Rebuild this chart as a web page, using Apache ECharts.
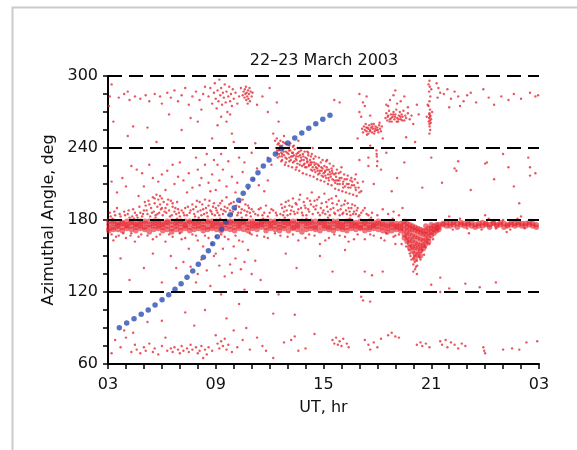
<!DOCTYPE html>
<html>
<head>
<meta charset="utf-8">
<title>Azimuthal angle, 22–23 March 2003</title>
<script src="https://cdn.jsdelivr.net/npm/echarts@6/dist/echarts.min.js"></script>
<style>
  html, body { margin: 0; padding: 0; background: #fff; }
  #chart { width: 577px; height: 450px; }
</style>
</head>
<body>
<div id="chart"></div>
<script>
// blue track (UT hours, azimuth deg)
const trackHours = [3.63, 4.04, 4.45, 4.85, 5.24, 5.62, 6.01, 6.38, 6.73, 7.07, 7.40, 7.72, 8.03, 8.31, 8.59, 8.83, 9.09,
  9.33, 9.57, 9.81, 10.03, 10.28, 10.53, 10.80, 11.06, 11.35, 11.65, 11.97, 12.32, 12.65, 13.01, 13.40, 13.79, 14.18,
  14.57, 14.96, 15.36]
const trackDeg = [90.2, 94.2, 97.8, 101.4, 105.0, 109.2, 113.6, 117.8, 122.3, 126.9, 132.3, 137.5, 143.1, 148.9, 154.4,
  160.3, 166.1, 172.3, 178.3, 184.4, 190.3, 196.4, 202.3, 208.1, 213.9, 219.4, 225.0, 230.0, 235.0, 239.4, 244.2,
  248.3, 252.5, 256.4, 260.3, 263.9, 267.3]

const refLines = [120, 180, 240, 300]

// dense band just under 180 deg: [hour, angle, angle, ...]
const bandColumns = [
  [3.05,176,173,179,171], [3.30,177,174,179,172], [3.55,175,178,172,176], [3.80,174,178,171,177],
  [4.05,176,173,179,175], [4.30,178,172,175,179], [4.55,174,177,171,176], [4.80,175,179,173,177],
  [5.05,177,172,179,174], [5.30,176,170,179,174], [5.55,175,179,172,177], [5.80,177,173,179,175],
  [6.05,174,178,171,176], [6.30,178,175,179,172], [6.55,176,173,179,170], [6.80,175,179,172,177],
  [7.05,177,174,179,171], [7.30,176,179,173,175], [7.55,174,178,171,179], [7.80,177,175,179,172],
  [8.05,175,179,173,178], [8.30,176,171,179,174], [8.55,178,174,179,172], [8.80,175,179,173,177],
  [9.05,177,172,179,175], [9.30,174,178,171,176], [9.55,176,179,173,178], [9.80,175,172,178,179],
  [10.05,177,174,179,171], [10.30,175,179,173,177], [10.55,176,172,178,179], [10.80,174,179,171,176],
  [11.05,177,175,179,173], [11.30,175,178,172,176], [11.55,176,179,174,178], [11.80,174,177,171,179],
  [12.05,177,173,179,175], [12.30,175,179,172,178], [12.55,176,174,179,171], [12.80,178,175,173,179],
  [13.05,175,179,171,177], [13.30,177,173,179,174], [13.55,176,179,172,175], [13.80,174,178,170,179],
  [14.05,177,175,179,172], [14.30,175,179,173,178], [14.55,176,172,179,174], [14.80,178,175,171,179],
  [15.05,175,177,173,179], [15.30,176,172,179,174], [15.55,177,174,179,171], [15.80,175,179,173,177],
  [16.05,176,172,178,174], [16.30,174,179,171,177], [16.55,177,175,179,173], [16.80,175,178,172,176],
  [17.05,176,173,179,174], [17.30,174,177,171,178], [17.55,176,174,179,172], [17.80,175,178,173,176],
  [18.05,177,172,175,179], [18.30,174,176,171,178], [18.55,175,173,177,170], [18.80,176,174,171,178],
  [19.05,174,177,172,175], [19.30,175,171,177,173],
  // dip around 20 UT
  [19.50,176,172,168,179,165], [19.65,174,170,166,177,162], [19.80,173,169,164,160,176,157],
  [19.95,172,167,163,158,154,175], [20.10,171,166,161,157,152,148,174], [20.25,170,165,160,156,151,173],
  [20.40,169,164,159,155,172,150], [20.55,168,163,159,171,156], [20.70,168,164,160,171,175],
  [20.85,169,165,162,173], [21.00,170,167,173,176], [21.15,172,169,175], [21.30,173,171,176], [21.42,174,176,172],
  // thin band after the gap
  [21.65,176,177], [21.85,175,178], [22.05,177,175], [22.25,176,178], [22.45,174,177], [22.65,176,178],
  [22.85,175,177], [23.05,177,176], [23.25,175,178], [23.45,176,174], [23.65,177,175], [23.85,175,178],
  [24.05,176,177], [24.25,174,176], [24.45,177,178], [24.65,175,176], [24.85,176,178], [25.05,174,177],
  [25.25,176,175], [25.45,178,176], [25.65,175,177], [25.85,176,178], [26.05,177,175], [26.25,175,177],
  [26.45,176,178], [26.65,177,175], [26.85,176,174]
]

// sparse dots, flat hour,angle pairs
const bandHalo = [
  3.1,186, 3.2,168, 3.4,184, 3.5,190, 3.6,167, 3.7,183, 3.9,187, 4.0,165, 4.1,185, 4.2,182, 4.3,169, 4.4,189,
  4.6,184, 4.7,166, 4.8,186, 4.9,183,
  5.0,188, 5.1,192, 5.2,185, 5.25,196, 5.35,183, 5.4,190, 5.5,199, 5.55,187, 5.6,194, 5.65,184, 5.7,201, 5.75,191,
  5.8,197, 5.85,186, 5.9,193, 5.95,189, 6.0,198, 6.05,184, 6.1,195, 6.2,190, 6.25,186, 6.3,193, 6.4,188, 6.5,196,
  6.55,184, 6.6,191, 6.7,187, 6.8,185, 6.9,189, 7.0,183,
  5.2,167, 5.5,164, 5.9,168, 6.2,162, 6.6,166, 7.0,169,
  7.2,186, 7.3,190, 7.4,184, 7.6,188, 7.7,193, 7.8,185, 7.9,191, 8.0,187, 8.1,195, 8.2,184, 8.3,189, 8.4,197,
  8.5,186, 8.6,192, 8.7,188, 8.8,185, 8.9,194, 9.0,190,
  7.3,165, 7.7,168, 8.0,163, 8.4,167, 8.8,160, 9.0,166,
  9.1,186, 9.15,192, 9.2,184, 9.3,189, 9.35,196, 9.4,185, 9.5,191, 9.55,187, 9.6,199, 9.7,184, 9.75,193, 9.8,188,
  9.9,185, 10.0,195, 10.1,189, 10.2,184, 10.3,191, 10.4,186, 10.5,197, 10.6,188, 10.7,184, 10.8,192, 10.9,186, 11.0,189,
  9.3,168, 9.7,164, 10.1,167, 10.5,162, 10.9,169,
  11.2,185, 11.4,189, 11.6,184, 11.8,192, 12.0,186, 12.2,188, 12.4,184, 11.3,167, 11.9,165, 12.3,169,
  12.6,185, 12.7,190, 12.8,187, 12.9,195, 13.0,184, 13.1,192, 13.2,188, 13.3,198, 13.4,185, 13.5,193, 13.6,189,
  13.7,201, 13.8,186, 13.9,195, 14.0,190, 14.05,184, 14.1,198, 14.2,187, 14.3,193, 14.35,203, 14.4,185, 14.5,196,
  14.55,189, 14.6,192, 14.7,186, 14.75,199, 14.8,184, 14.9,194, 15.0,188, 15.05,202, 15.1,185, 15.2,191, 15.3,197,
  15.35,184, 15.4,189, 15.5,194, 15.6,186, 15.7,200, 15.8,188, 15.9,184, 16.0,192, 16.1,186, 16.2,196, 16.3,185,
  16.4,190, 16.5,184, 16.6,193, 16.7,187, 16.8,185, 16.9,190, 17.0,184, 17.2,188, 17.4,185,
  13.0,166, 13.6,163, 14.2,168, 14.8,160, 15.3,165, 15.9,167, 16.4,162, 16.9,168, 17.3,164,
  17.7,186, 18.0,184, 18.3,189, 18.6,185, 18.9,187, 19.2,184, 19.4,190,
  17.8,167, 18.2,165, 18.5,169, 18.9,166, 19.2,168,
  19.6,158, 19.8,152, 19.9,147, 20.0,143, 20.05,150, 20.15,141, 20.2,146, 20.3,153, 20.4,147, 20.5,155, 20.6,151,
  20.1,139, 19.7,162, 20.7,157, 20.9,160, 21.1,164,
  21.8,180, 22.2,172, 22.6,181, 23.0,173, 23.4,180, 23.8,172, 24.2,181, 24.6,173, 25.0,180, 25.4,172, 25.8,181,
  26.2,173, 26.6,180, 22.0,183, 24.0,184, 26.0,183, 25.2,170, 23.1,169,
  3.25,181, 4.45,181, 5.65,182, 6.85,181, 8.05,182, 9.25,181, 10.45,182, 11.65,181, 12.85,182, 14.05,181,
  15.25,182, 16.45,181, 17.65,182, 18.85,181
]

const bandHaloOuter = [
  3.15,183, 3.35,187, 3.45,166, 3.65,185, 3.85,169, 3.95,184, 4.15,188, 4.25,167, 4.35,183, 4.5,186, 4.65,182,
  4.75,191, 4.85,168, 4.95,185,
  5.05,195, 5.15,188, 5.3,193, 5.45,186, 5.6,198, 5.75,185, 5.9,200, 6.0,190, 6.15,187, 6.35,197, 6.45,183,
  6.6,194, 6.75,190, 6.85,195, 6.95,186,
  7.1,188, 7.25,184, 7.45,191, 7.55,186, 7.75,189, 7.85,183, 7.95,196, 8.15,188, 8.25,193, 8.35,185, 8.45,190,
  8.55,183, 8.65,196, 8.75,187, 8.85,191, 8.95,184,
  9.05,188, 9.25,194, 9.45,188, 9.65,190, 9.85,194, 9.95,187, 10.15,192, 10.25,186, 10.35,195, 10.45,189,
  10.65,193, 10.75,187, 10.85,190, 10.95,183,
  11.1,187, 11.35,184, 11.5,190, 11.7,186, 11.9,183, 12.1,189, 12.35,186,
  12.65,193, 12.75,184, 12.85,191, 12.95,188, 13.05,196, 13.15,185, 13.25,191, 13.35,187, 13.45,194, 13.55,186,
  13.65,197, 13.75,190, 13.85,184, 13.95,192, 14.15,189, 14.25,196, 14.45,191, 14.65,197, 14.85,190, 14.95,186,
  15.15,195, 15.25,187, 15.45,198, 15.55,190, 15.65,185, 15.75,193, 15.85,196, 15.95,189, 16.05,185, 16.15,193,
  16.25,188, 16.35,194, 16.45,187, 16.55,190, 16.65,185, 16.75,192, 16.85,188, 16.95,183, 17.1,186, 17.3,190, 17.5,184,
  3.3,163, 4.5,162, 5.7,166, 6.4,168, 7.1,164, 7.9,167, 8.6,165, 9.5,166, 10.3,163, 11.0,168, 11.7,166, 12.6,167,
  13.3,168, 14.0,165, 14.5,167, 15.1,163, 15.6,168, 16.2,166, 16.7,164, 17.6,168, 18.4,163, 19.0,167, 19.35,160,
  19.75,155, 19.85,150, 20.0,148, 20.08,145, 20.22,142, 20.35,149, 20.45,153, 20.65,158, 20.78,161, 20.0,137, 20.2,135
]

const diagonalArc = [
  12.3,246, 12.35,240, 12.4,236, 12.45,243, 12.5,238, 12.55,233, 12.6,241, 12.65,236, 12.7,230, 12.75,239, 12.8,234,
  12.85,244, 12.9,237, 12.95,231, 13.0,240, 13.05,235, 13.1,229, 13.15,238, 13.2,233, 13.25,236, 13.3,228, 13.35,234,
  13.4,239, 13.45,231, 13.5,235, 13.55,227, 13.6,233, 13.65,237, 13.7,229, 13.75,232, 13.8,225, 13.85,235, 13.9,230,
  13.95,227, 14.0,232, 14.05,224, 14.1,229, 14.15,234, 14.2,226, 14.25,230, 14.3,222, 14.35,228, 14.4,224, 14.45,231,
  14.5,226, 14.55,220, 14.6,227, 14.65,223, 14.7,218, 14.75,225, 14.8,221, 14.85,228, 14.9,217, 14.95,223, 15.0,219,
  15.05,225, 15.1,221, 15.15,215, 15.2,222, 15.25,218, 15.3,213, 15.35,220, 15.4,216, 15.45,223, 15.5,214, 15.6,218,
  15.65,211, 15.7,216, 15.8,213, 15.85,219, 15.9,210, 16.0,215, 16.1,212, 16.2,208, 16.3,214, 16.4,210, 16.5,207,
  16.6,212, 16.7,209, 16.8,205, 16.9,211,
  12.5,244, 12.7,242, 12.9,228, 13.1,242, 13.3,241, 13.5,224, 13.7,240, 14.1,237, 14.3,233,
  12.2,252, 12.8,250, 13.6,246, 14.4,240, 15.2,230, 16.0,224, 11.9,232, 12.1,226, 16.8,218, 17.2,212, 17.0,203,
  12.4,248, 12.45,232, 12.6,246, 12.65,229, 12.75,245, 12.85,226, 12.95,243, 13.05,225, 13.15,244, 13.25,224,
  13.35,242, 13.45,222, 13.55,240, 13.65,221, 13.75,238, 13.85,219, 13.95,237, 14.05,218, 14.15,236, 14.25,217,
  14.35,235, 14.45,216, 14.55,233, 14.65,214, 14.75,232, 14.85,213, 14.95,230, 15.05,212, 15.15,229, 15.25,210,
  15.35,227, 15.45,209, 15.55,225, 15.65,206, 15.75,222, 15.85,205, 15.95,220, 16.05,204, 16.15,218, 16.25,203,
  16.35,217, 16.45,202, 16.55,215, 16.65,201, 16.75,214, 16.85,200, 16.95,207, 17.1,204, 12.55,239, 12.7,235,
  12.9,240, 13.1,232, 13.3,236, 13.5,230, 13.7,234, 13.9,226, 14.1,228, 14.3,226, 14.5,222, 14.7,226, 14.9,221,
  15.1,217, 15.3,222, 15.5,219, 15.7,213, 15.9,215, 16.1,207, 16.3,210, 16.5,213,
  12.42,238, 12.52,235, 12.58,242, 12.68,233, 12.78,237, 12.88,232, 12.98,236, 13.08,238, 13.18,230, 13.28,233,
  13.38,229, 13.48,233, 13.58,236, 13.68,226, 13.78,230, 13.88,233, 13.98,224, 14.08,231, 14.18,225, 14.28,228,
  14.38,221, 14.48,228, 14.58,224, 14.68,221, 14.78,219, 14.88,224, 14.98,216, 15.08,220, 15.18,224, 15.28,215,
  15.38,218, 15.48,221, 15.58,213, 15.68,219, 15.78,210, 15.88,213, 16.08,210, 16.18,214, 16.38,207, 16.58,209,
  16.78,207
]

const noonCluster = [
  8.6,283, 8.7,290, 8.8,277, 8.9,286, 8.95,294, 9.0,281, 9.05,273, 9.1,288, 9.15,279, 9.2,297, 9.25,284, 9.3,290,
  9.35,276, 9.4,286, 9.45,282, 9.5,293, 9.55,278, 9.6,287, 9.65,270, 9.7,283, 9.75,291, 9.8,279, 9.85,285, 9.9,275,
  9.95,289, 10.0,281, 10.1,286, 10.2,277, 10.3,283, 10.4,290, 9.3,266, 9.6,262, 9.8,268, 9.1,259,
  10.5,284, 10.55,287, 10.6,282, 10.62,289, 10.65,285, 10.7,280, 10.72,286, 10.75,283, 10.8,288, 10.82,281,
  10.85,285, 10.9,279, 10.95,287, 11.0,283, 11.05,286, 10.68,291, 10.78,277, 10.88,290,
  11.3,276, 11.6,283, 12.0,290, 11.9,270, 12.4,278
]

const topLeft = [
  3.1,283, 3.05,275, 3.3,262, 3.6,282, 3.9,285, 4.1,287, 4.2,280, 4.5,283, 4.8,281, 5.1,284, 5.3,279, 5.6,285,
  5.9,283, 6.0,277, 6.3,286, 6.5,282, 6.7,288, 6.9,279, 7.1,284, 7.3,290, 7.5,276, 7.7,283, 7.9,287, 8.1,280,
  8.3,285, 8.4,291, 4.4,258, 5.2,257, 6.4,268, 7.6,265, 8.2,272, 3.2,293, 8.0,262
]

const midUpper = [
  4.3,225, 4.6,222, 6.0,218, 6.3,221, 6.7,210, 6.9,216, 7.2,213, 7.5,219, 7.7,207, 8.0,222, 8.2,215, 8.4,226,
  8.6,211, 8.8,218, 8.9,230, 9.0,205, 9.2,213, 9.4,222, 9.6,208, 9.9,216, 10.2,211, 10.5,220, 10.8,206, 11.1,214,
  11.4,209, 11.7,204, 3.2,212, 5.0,208, 5.5,215, 7.0,228, 8.5,235, 9.5,240, 10.0,245, 10.3,232, 3.5,203, 4.0,208,
  4.7,200,
  3.8,215, 4.9,219, 5.3,226, 5.8,212, 6.2,205, 6.6,226, 7.4,203, 7.9,232, 8.1,209, 8.7,204, 9.1,226, 9.3,235,
  9.7,229, 10.1,203, 10.6,228, 11.0,236, 11.3,223, 11.9,213, 4.1,250, 5.7,245, 7.1,255, 8.8,248, 9.9,252,
  11.2,244, 12.5,262,
  17.5,225, 18.2,222, 19.5,228, 21.0,232, 22.5,229, 24.0,227, 25.0,235, 26.5,224, 17.0,230, 18.5,236, 17.6,242,
  17.95,238, 17.97,233, 18.0,229, 17.98,225, 17.96,235, 17.5,232, 26.4,232, 26.5,217, 22.3,223, 22.4,221,
  24.1,228, 25.3,224, 25.9,194, 19.1,215, 20.5,207, 21.6,211, 23.2,205, 24.5,214, 25.6,208, 26.8,219, 18.8,204,
  17.8,210
]

const midLower = [
  6.5,150, 7.2,145, 7.6,141, 8.2,147, 8.5,138, 9.0,152, 9.5,133, 9.8,143, 10.1,148, 10.4,139, 10.8,155, 11.2,146,
  7.9,128, 8.7,125, 9.3,118, 10.6,122, 11.5,130, 6.0,128, 5.0,140, 4.2,130, 3.7,148, 8.4,105, 9.6,98, 10.3,110,
  7.3,103, 12.5,118, 13.5,140, 14.8,150, 16.2,155, 12.9,152, 19.0,160, 12.2,102,
  15.5,137, 17.3,137, 17.7,134, 18.3,137, 17.1,116, 17.6,112, 17.2,113, 13.4,101, 21.5,132, 21.0,126, 22.0,123,
  22.9,127, 23.7,124, 24.6,128, 21.5,120, 15.25,120,
  8.3,158, 8.9,150, 9.2,142, 9.4,156, 9.9,136, 10.0,158, 10.6,145, 11.0,135, 8.0,135, 7.5,156, 6.8,140, 5.5,152
]

const lowBand = [
  3.4,80, 3.7,74, 4.0,82, 4.3,70, 4.5,76, 4.6,72, 4.8,69, 5.0,74, 5.1,71, 5.3,77, 5.5,70, 5.6,73, 5.8,68, 6.0,75,
  6.3,71, 6.5,73, 6.6,70, 6.7,74, 6.9,72, 7.0,69, 7.1,75, 7.2,71, 7.4,73, 7.5,70, 7.6,76, 7.7,72, 7.9,74, 8.0,69,
  8.1,71, 8.2,75, 8.4,72, 8.5,68, 8.6,74, 8.8,71, 9.1,77, 9.2,73, 9.3,79, 9.4,75, 9.5,81, 9.6,72, 9.7,76, 9.9,70,
  10.2,74, 10.5,80, 10.9,72, 11.3,82, 11.6,75, 11.8,71, 12.2,65, 3.2,69, 3.9,88, 6.2,82, 8.3,65, 9.0,84, 10.0,88,
  10.7,90, 6.0,96, 7.8,92, 5.2,95, 4.4,86,
  12.8,78, 13.2,80, 13.6,71, 13.4,83, 15.5,80, 15.6,77, 15.7,82, 15.8,76, 15.9,79, 16.0,75, 16.1,81, 16.3,77,
  16.4,74, 17.3,80, 17.5,76, 17.6,72, 17.8,78, 18.0,74, 18.2,81, 18.6,84, 18.8,86, 19.0,83, 19.2,82, 20.2,76,
  20.4,78, 20.5,75, 20.7,77, 20.9,74, 21.5,79, 21.6,76, 21.8,80, 21.9,74, 22.1,78, 22.3,76, 22.5,73, 22.7,77,
  22.9,75, 23.9,74, 23.95,71, 24.0,69, 25.0,72, 25.5,73, 25.9,72, 26.3,78, 26.9,79, 14.5,85, 14.0,73
]

const duskClusters = [
  // 17-18 UT
  17.15,256, 17.2,253, 17.25,258, 17.3,255, 17.35,260, 17.4,254, 17.45,257, 17.5,252, 17.55,259, 17.6,255,
  17.65,257, 17.7,253, 17.75,256, 17.8,260, 17.85,254, 17.9,258, 17.95,255, 18.0,257, 18.05,253, 18.1,259,
  18.15,256, 18.2,254, 18.25,258, 17.38,257, 17.58,254, 17.72,258, 17.88,256, 18.02,255, 17.5,256, 17.68,260,
  17.82,252, 17.42,251, 18.12,261,
  17.0,270, 17.2,278, 17.4,283, 17.1,266, 16.9,248, 17.6,267, 17.3,275, 17.0,285, 15.6,280, 15.9,278,
  // 18.5-20 UT
  18.45,265, 18.5,269, 18.55,263, 18.6,267, 18.65,271, 18.7,264, 18.75,268, 18.8,262, 18.85,266, 18.9,270,
  18.95,264, 19.0,268, 19.05,272, 19.1,265, 19.15,262, 19.2,267, 19.25,270, 19.3,264, 19.35,268, 19.4,266,
  19.45,271, 19.5,263, 19.55,267, 19.6,265, 19.7,269, 19.8,264, 19.9,267, 18.58,266, 18.78,265, 18.98,266,
  19.18,264, 19.38,263, 18.68,262, 18.88,268, 19.08,262, 19.28,266,
  18.5,276, 18.7,280, 18.9,284, 19.1,277, 19.3,279, 19.5,283, 19.0,288, 18.6,275, 19.7,274, 20.0,260, 20.3,268,
  20.2,276, 18.3,248, 19.6,249, 20.1,245,
  // streak near 21 UT
  20.9,296, 20.92,291, 20.88,287, 20.95,283, 20.9,279, 20.85,275, 20.93,272, 20.9,269, 20.95,267, 20.88,265,
  20.92,263, 20.97,261, 20.9,260, 20.86,262, 20.94,266, 20.99,264, 20.89,268, 20.91,258, 20.94,255, 20.9,252,
  20.8,276, 21.0,289, 20.85,293, 21.05,270, 20.75,266, 21.3,294, 21.4,290, 21.5,286, 21.35,282
]

const topRight = [
  21.7,285, 21.9,289, 22.1,281, 22.3,287, 22.5,283, 22.8,279, 23.0,284, 23.2,286, 23.5,278, 24.2,282, 24.5,276,
  24.9,283, 25.3,280, 25.6,285, 26.0,281, 26.5,286, 26.8,283, 26.95,284, 22.0,274, 22.6,275, 23.9,289
]

function toPairs(flat) {
  const out = []
  for (let i = 0; i < flat.length; i += 2) out.push([flat[i], flat[i + 1]])
  return out
}

const bandPoints = []
bandColumns.forEach(col => {
  for (let i = 1; i < col.length; i++) bandPoints.push([col[0], col[i]])
})

const sparsePoints = [].concat(
  toPairs(bandHalo), toPairs(bandHaloOuter), toPairs(diagonalArc), toPairs(noonCluster), toPairs(topLeft),
  toPairs(midUpper), toPairs(midLower), toPairs(lowBand), toPairs(duskClusters), toPairs(topRight)
)

const trackPoints = trackHours.map((h, i) => [h, trackDeg[i]])

const chart = echarts.init(document.getElementById('chart'))
const FONT = 'DejaVu Sans'

chart.setOption({
  animation: false,
  backgroundColor: '#fff',
  textStyle: { fontFamily: FONT },
  grid: { left: 108, top: 76, right: 38, bottom: 86 },
  graphic: [
    {
      type: 'polyline', silent: true,
      shape: { points: [[12.5, 450], [12.5, 7.5], [577, 7.5]] },
      style: { stroke: '#cbcbcb', lineWidth: 2, fill: null }
    },
    {
      type: 'text', x: 324, y: 61, silent: true,
      style: {
        text: '22–23 March 2003', fontSize: 16, fontFamily: FONT, fill: '#111',
        align: 'center', verticalAlign: 'middle'
      }
    }
  ],
  xAxis: {
    type: 'value', min: 3, max: 27, interval: 1,
    name: 'UT, hr', nameLocation: 'middle', nameGap: 36,
    nameTextStyle: { fontSize: 16, color: '#111', fontFamily: FONT },
    axisLine: { show: true, onZero: false, lineStyle: { color: '#000', width: 2 } },
    axisTick: { show: true, length: 5, lineStyle: { color: '#000', width: 1.5 } },
    axisLabel: {
      margin: 13, fontSize: 16, color: '#111', fontFamily: FONT,
      formatter: v => (v - 3) % 6 === 0 ? String(v % 24).padStart(2, '0') : ''
    },
    splitLine: { show: false }
  },
  yAxis: {
    type: 'value', min: 60, max: 300, interval: 15,
    name: 'Azimuthal Angle, deg', nameLocation: 'middle', nameGap: 43, nameRotate: 90,
    nameTextStyle: { fontSize: 16, color: '#111', fontFamily: FONT },
    axisLine: { show: true, lineStyle: { color: '#000', width: 2 } },
    axisTick: { show: true, length: 5, lineStyle: { color: '#000', width: 1.5 } },
    axisLabel: {
      margin: 10, fontSize: 16, color: '#111', fontFamily: FONT,
      formatter: v => v % 60 === 0 ? String(v) : ''
    },
    splitLine: { show: false }
  },
  series: [
    {
      type: 'scatter', name: 'band', silent: true, z: 2,
      symbol: 'circle', symbolSize: 5.5,
      itemStyle: { color: 'rgba(230,40,50,0.8)' },
      data: bandPoints
    },
    {
      type: 'scatter', name: 'sparse', silent: true, z: 2,
      symbol: 'circle', symbolSize: 2.4,
      itemStyle: { color: '#e52a36' },
      data: sparsePoints
    },
    {
      type: 'line', name: 'ref', silent: true, z: 3, data: [],
      markLine: {
        silent: true, symbol: 'none', label: { show: false },
        lineStyle: { color: '#000', type: [14, 7], width: 2 },
        data: refLines.map(v => ({ yAxis: v }))
      }
    },
    {
      type: 'scatter', name: 'track', silent: true, z: 4,
      symbol: 'circle', symbolSize: 5.5,
      itemStyle: { color: '#2a50b4' },
      data: trackPoints
    }
  ]
})
</script>
</body>
</html>
